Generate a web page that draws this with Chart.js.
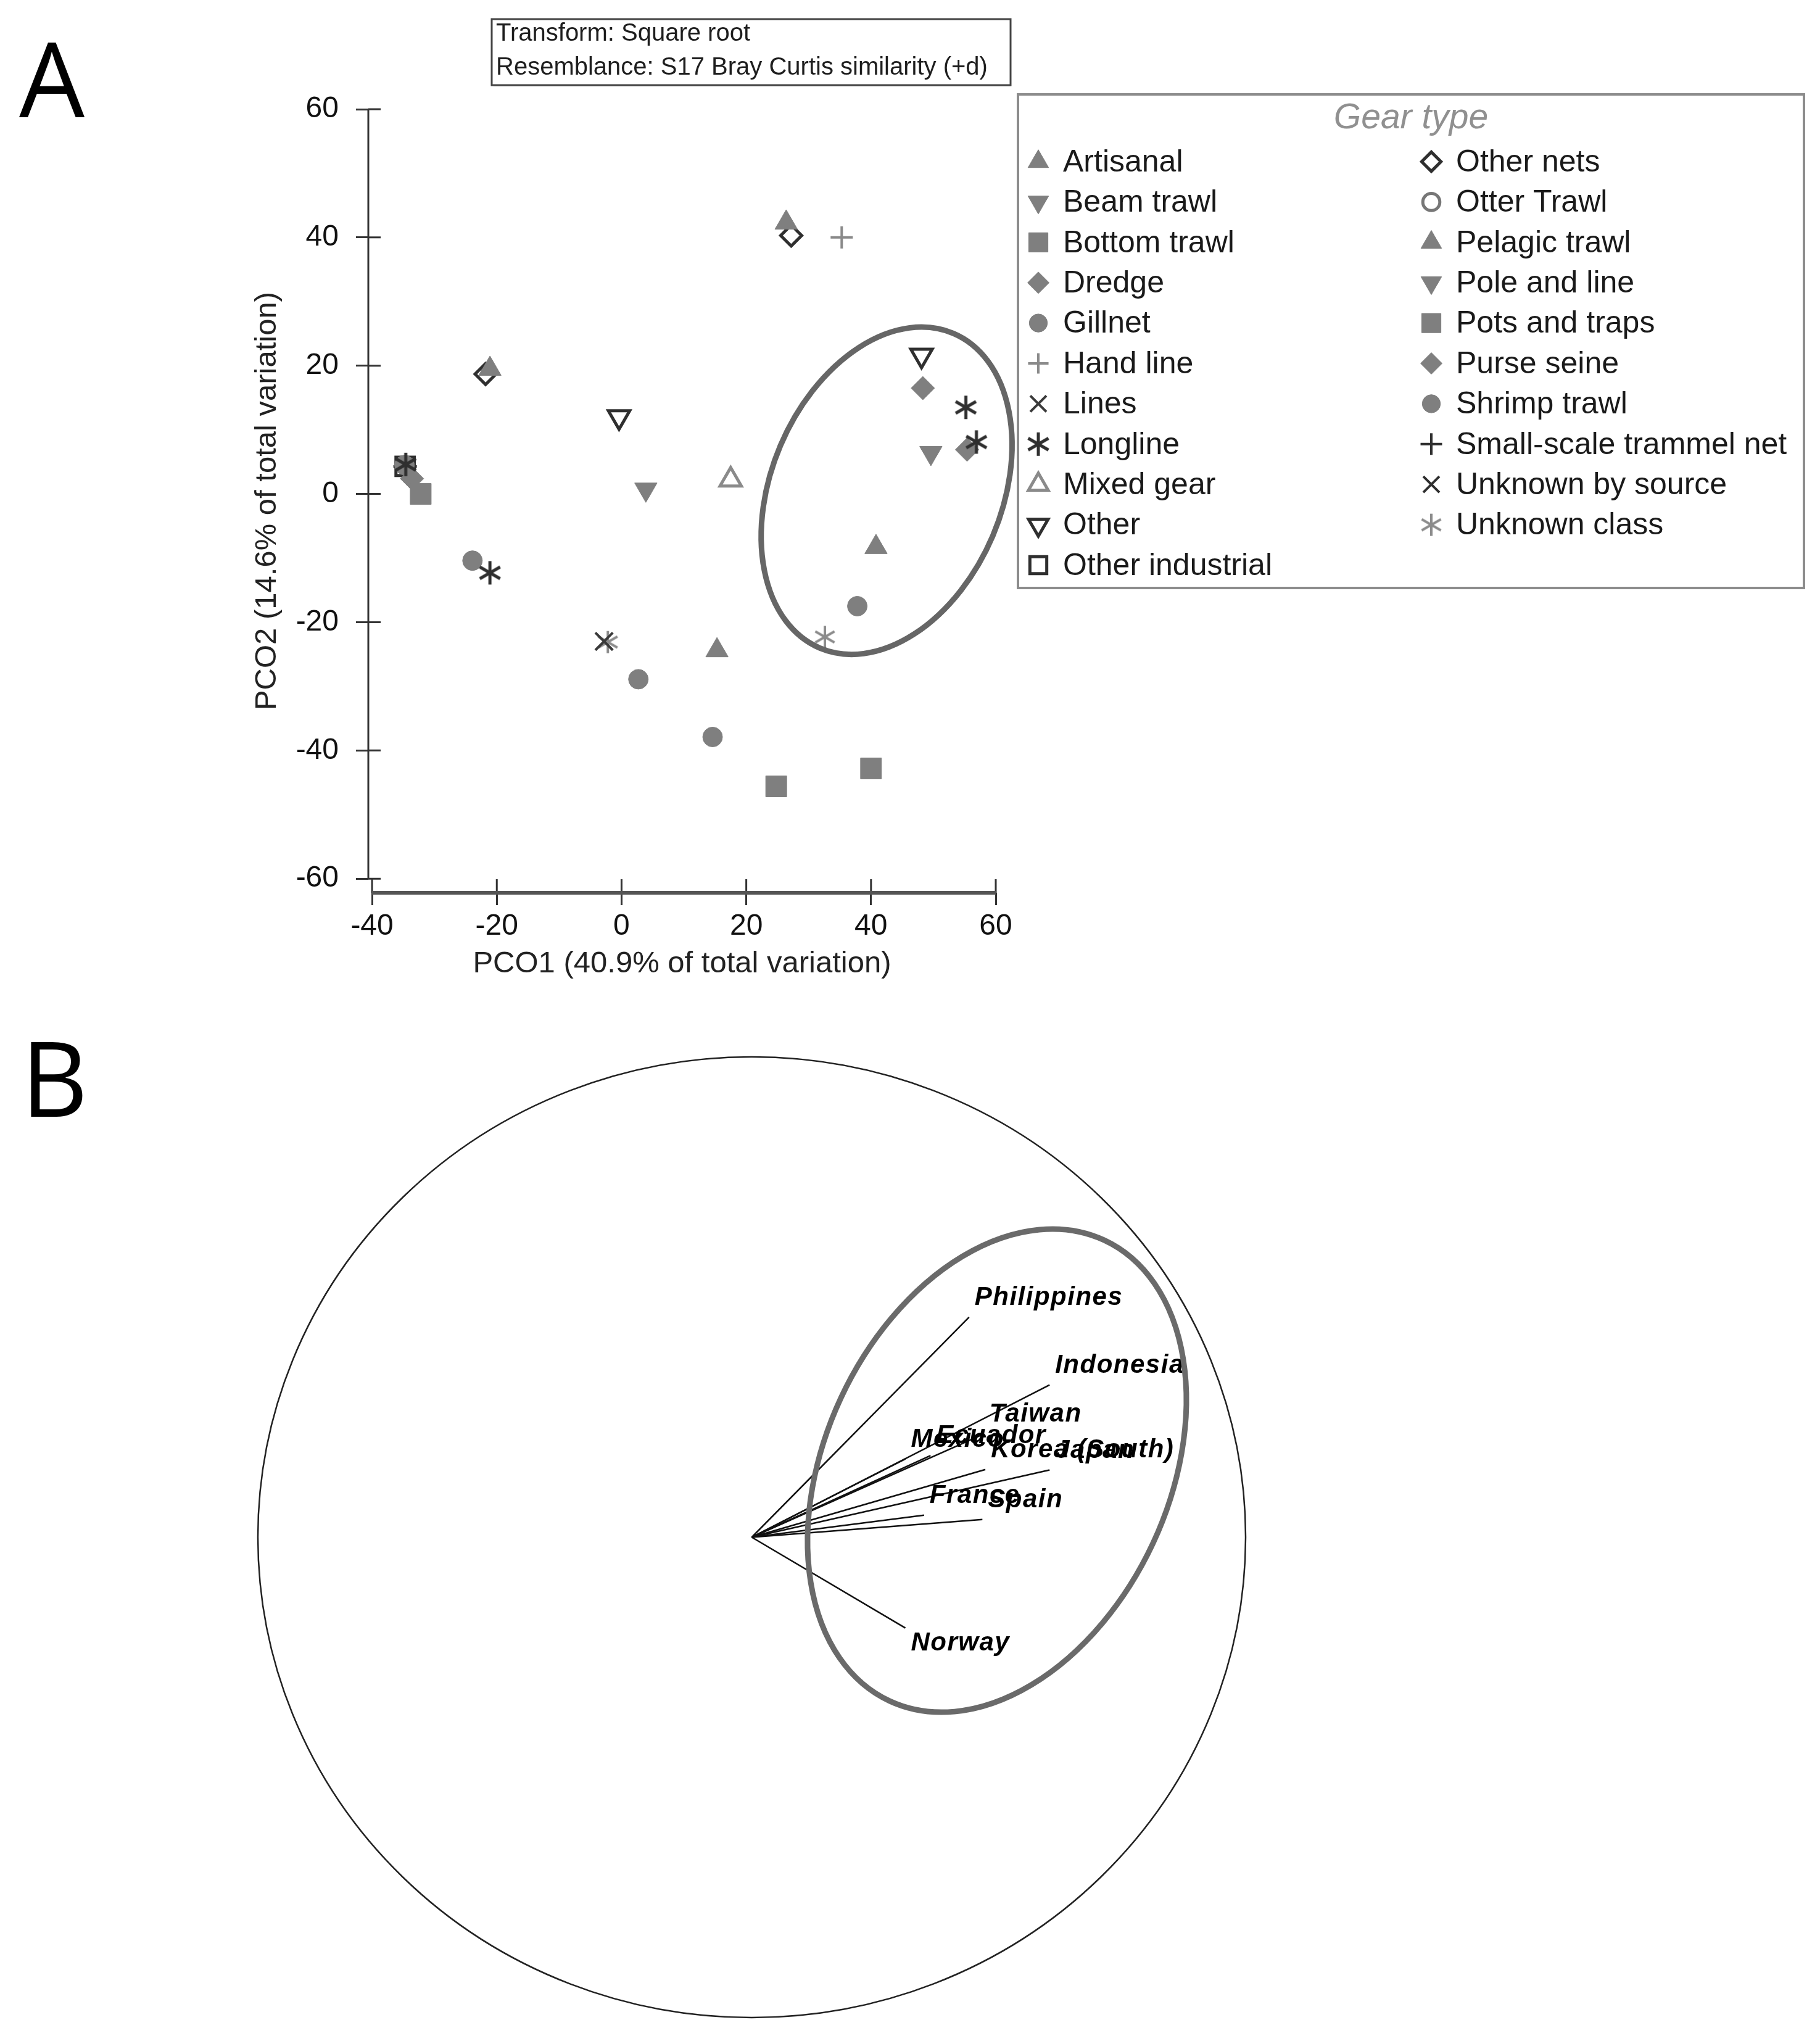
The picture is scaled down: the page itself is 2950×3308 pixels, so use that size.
<!DOCTYPE html>
<html>
<head>
<meta charset="utf-8">
<script src="https://cdn.jsdelivr.net/npm/chart.js@4.4.1/dist/chart.umd.min.js"></script>
<style>
  html, body { margin: 0; padding: 0; background: #fff; }
  body { width: 2950px; height: 3308px; position: relative; overflow: hidden; }
  canvas { position: absolute; left: 0; }
  #pcoA { top: 0; }
  #vecB { top: 1650px; }
</style>
</head>
<body>
<canvas id="pcoA" width="2950" height="1700"></canvas>
<canvas id="vecB" width="2950" height="1658"></canvas>
<script>
// Panel A - PCO scores by gear type
const gearTypes = [
  'Artisanal', 'Beam trawl', 'Bottom trawl', 'Dredge', 'Gillnet', 'Hand line',
  'Lines', 'Longline', 'Mixed gear', 'Other', 'Other industrial',
  'Other nets', 'Otter Trawl', 'Pelagic trawl', 'Pole and line', 'Pots and traps',
  'Purse seine', 'Shrimp trawl', 'Small-scale trammel net', 'Unknown by source', 'Unknown class'
]
const pco1 = [26.4, -21.1, 3.9, -32.2, 24.8, -33.6, -34.8, -23.9, 2.7, 35.3,
  -2.8, -34.6, -21.1, 55.2, 56.9, 17.5, -0.4, 48.1, -34.7, 27.2,
  -21.8, 40.8, 15.3, 49.6, 40.0, 48.3, 55.4, 14.6, 37.8, -34.7, -34.6, -2.2, 32.6]
const pco2 = [42.3, 19.5, 0.7, 0.0, -45.6, 2.4, 4.5, -10.4, -28.9, 40.0,
  -23.0, 4.6, -12.3, 13.5, 8.1, 2.2, 12.0, 21.6, 4.3, 40.3,
  18.7, -8.3, -24.4, 6.4, -42.8, 16.5, 6.9, -37.9, -17.5, 4.3, 4.4, -23.1, -22.3]
const pointGear = ['Artisanal', 'Artisanal', 'Beam trawl', 'Bottom trawl', 'Bottom trawl', 'Dredge',
  'Gillnet', 'Gillnet', 'Gillnet', 'Hand line',
  'Lines', 'Longline', 'Longline', 'Longline', 'Longline', 'Mixed gear', 'Other', 'Other',
  'Other industrial', 'Other nets', 'Other nets', 'Pelagic trawl', 'Pelagic trawl', 'Pole and line',
  'Pots and traps', 'Purse seine', 'Purse seine', 'Shrimp trawl', 'Shrimp trawl',
  'Small-scale trammel net', 'Unknown by source', 'Unknown class', 'Unknown class']
const xTicks = [-40, -20, 0, 20, 40, 60]
const yTicks = [-60, -40, -20, 0, 20, 40, 60]

// Panel B - country vectors
const countries = ['Philippines', 'Indonesia', 'Taiwan', 'Ecuador', 'Mexico',
  'Korea (South)', 'Japan', 'France', 'Spain', 'Norway']
const vecX = [0.440, 0.603, 0.470, 0.362, 0.311, 0.473, 0.603, 0.349, 0.467, 0.311]
const vecY = [0.458, 0.317, 0.215, 0.170, 0.163, 0.141, 0.140, 0.046, 0.037, -0.189]

const SANS = '"Liberation Sans", Arial, sans-serif'
Chart.defaults.font.family = SANS

// six-armed asterisk used for Longline / Unknown class
function asterisk(color, size, lw) {
  const c = document.createElement('canvas')
  c.width = c.height = size
  const g = c.getContext('2d')
  g.strokeStyle = color
  g.lineWidth = lw
  const r = size / 2 - 1
  for (const a of [90, 30, 150]) {
    const t = a * Math.PI / 180
    g.beginPath()
    g.moveTo(size / 2 - r * Math.cos(t), size / 2 - r * Math.sin(t))
    g.lineTo(size / 2 + r * Math.cos(t), size / 2 + r * Math.sin(t))
    g.stroke()
  }
  return c
}

const grey = '#7f7f7f', dark = '#2f2f2f', clear = 'rgba(0,0,0,0)'
const solid = (pointStyle, radius, rotation) => ({ pointStyle, radius, rotation: rotation || 0, fill: grey, stroke: grey, width: 1 })
const hollow = (pointStyle, radius, color, rotation) => ({ pointStyle, radius, rotation: rotation || 0, fill: '#fff', stroke: color, width: 5 })
const lined = (pointStyle, radius, color) => ({ pointStyle, radius, rotation: 0, fill: clear, stroke: color, width: 4 })

const gearStyle = {
  'Artisanal': solid('triangle', 21),
  'Beam trawl': solid('triangle', 21, 180),
  'Bottom trawl': solid('rect', 24),
  'Dredge': solid('rectRot', 19),
  'Gillnet': solid('circle', 16),
  'Hand line': lined('cross', 18, '#8a8a8a'),
  'Lines': lined('crossRot', 20, '#3a3a3a'),
  'Longline': { pointStyle: asterisk(dark, 40, 5), radius: 20, rotation: 0, fill: dark, stroke: dark, width: 0 },
  'Mixed gear': hollow('triangle', 20, '#8a8a8a'),
  'Other': hollow('triangle', 20, dark, 180),
  'Other industrial': hollow('rect', 21, dark),
  'Other nets': hollow('rectRot', 17, dark),
  'Otter Trawl': hollow('circle', 15, '#777'),
  'Pelagic trawl': solid('triangle', 21),
  'Pole and line': solid('triangle', 21, 180),
  'Pots and traps': solid('rect', 24),
  'Purse seine': solid('rectRot', 19),
  'Shrimp trawl': solid('circle', 16),
  'Small-scale trammel net': lined('cross', 19, dark),
  'Unknown by source': lined('crossRot', 20, dark),
  'Unknown class': { pointStyle: asterisk('#8c8c8c', 38, 4), radius: 19, rotation: 0, fill: grey, stroke: grey, width: 0 }
}

const datasetsA = gearTypes.map(name => {
  const s = gearStyle[name]
  const data = []
  pointGear.forEach((g, i) => { if (g === name) data.push({ x: pco1[i], y: pco2[i] }) })
  return {
    label: name,
    data,
    pointStyle: s.pointStyle,
    pointRadius: s.radius,
    rotation: s.rotation,
    backgroundColor: s.fill,
    borderColor: s.stroke,
    borderWidth: s.width,
    order: name === 'Longline' ? -1 : 0
  }
})

// axis lines (offset PRIMER style), inner tick halves, ellipse, legend, note box
const panelA = {
  id: 'panelA',
  afterDraw(chart) {
    const { ctx, chartArea } = chart
    const xs = chart.scales.x, ys = chart.scales.y
    const L = chartArea.left, B = chartArea.bottom
    ctx.save()
    ctx.strokeStyle = '#333'
    ctx.lineWidth = 3
    ctx.beginPath()
    ctx.moveTo(L, ys.getPixelForValue(60))
    ctx.lineTo(L, ys.getPixelForValue(-60))
    yTicks.forEach(v => { const p = ys.getPixelForValue(v); ctx.moveTo(L, p); ctx.lineTo(L + 20, p) })
    xTicks.forEach(v => { const p = xs.getPixelForValue(v); ctx.moveTo(p, B); ctx.lineTo(p, B - 22) })
    ctx.stroke()
    ctx.strokeStyle = '#555'
    ctx.lineWidth = 6
    ctx.beginPath()
    ctx.moveTo(xs.getPixelForValue(-40), B)
    ctx.lineTo(xs.getPixelForValue(60), B)
    ctx.stroke()

    // cluster ellipse
    ctx.strokeStyle = '#666'
    ctx.lineWidth = 9
    ctx.beginPath()
    ctx.ellipse(xs.getPixelForValue(42.5), ys.getPixelForValue(0.5), 187, 277, 23 * Math.PI / 180, 0, Math.PI * 2)
    ctx.stroke()

    // note box
    ctx.fillStyle = '#cfcfcf'
    ctx.fillRect(800, 135, 838, 5)
    ctx.fillStyle = '#fff'
    ctx.fillRect(797, 31, 841, 107)
    ctx.strokeStyle = '#444'
    ctx.lineWidth = 3
    ctx.strokeRect(797, 31, 841, 107)
    ctx.fillStyle = '#1e1e1e'
    ctx.font = '40px ' + SANS
    ctx.textAlign = 'left'
    ctx.textBaseline = 'alphabetic'
    ctx.fillText('Transform: Square root', 804, 66)
    ctx.fillText('Resemblance: S17 Bray Curtis similarity (+d)', 804, 121, 826)

    // legend
    ctx.strokeStyle = '#8c8c8c'
    ctx.lineWidth = 4
    ctx.strokeRect(1650, 153, 1274, 800)
    ctx.font = 'italic 57px ' + SANS
    ctx.fillStyle = '#909090'
    ctx.textAlign = 'center'
    ctx.fillText('Gear type', 2287, 208)
    ctx.font = '50px ' + SANS
    ctx.textAlign = 'left'
    ctx.textBaseline = 'middle'
    chart.data.datasets.forEach((ds, i) => {
      const right = i >= 11
      const row = right ? i - 11 : i
      const y = 262 + row * 65.4
      const mx = right ? 2320 : 1683
      ctx.fillStyle = ds.backgroundColor
      ctx.strokeStyle = ds.borderColor
      ctx.lineWidth = ds.borderWidth
      Chart.helpers.drawPoint(ctx, {
        pointStyle: ds.pointStyle, radius: ds.pointRadius * 0.92,
        rotation: ds.rotation, borderWidth: ds.borderWidth
      }, mx, y)
      ctx.fillStyle = '#1a1a1a'
      ctx.fillText(ds.label, right ? 2360 : 1723, y + 2)
    })

    ctx.fillStyle = '#000'
    ctx.textBaseline = 'alphabetic'
    ctx.font = '168px "Open Sans", ' + SANS
    ctx.fillText('A', 31, 190)
    ctx.restore()
  }
}

new Chart(document.getElementById('pcoA'), {
  type: 'scatter',
  data: { datasets: datasetsA },
  options: {
    responsive: false,
    animation: false,
    devicePixelRatio: 1,
    layout: { padding: { left: 380, top: 177, right: 1336, bottom: 0 } },
    plugins: { legend: { display: false }, tooltip: { enabled: false } },
    scales: {
      x: {
        type: 'linear', min: -40.6, max: 60,
        afterBuildTicks: s => { s.ticks = xTicks.map(v => ({ value: v })) },
        afterFit: s => { s.height = 253 },
        border: { display: false },
        grid: { drawOnChartArea: false, tickLength: 20, tickColor: '#333', tickWidth: 3 },
        ticks: { color: '#111', font: { size: 48 }, padding: 6, maxRotation: 0 },
        title: {
          display: true, text: 'PCO1 (40.9% of total variation)', color: '#222',
          font: { size: 49 }, padding: { top: 0, bottom: 108 }
        }
      },
      y: {
        type: 'linear', min: -62.2, max: 60,
        afterBuildTicks: s => { s.ticks = yTicks.map(v => ({ value: v })) },
        afterFit: s => { s.width = 217 },
        border: { display: false },
        grid: { drawOnChartArea: false, tickLength: 20, tickColor: '#333', tickWidth: 3 },
        ticks: { color: '#111', font: { size: 48 }, padding: 28 },
        title: {
          display: true, text: 'PCO2 (14.6% of total variation)', color: '#222',
          font: { size: 49 }, padding: { top: 24, bottom: 0 }
        }
      }
    }
  },
  plugins: [panelA]
})

// Panel B
const datasetsB = countries.map((name, i) => ({
  label: name,
  data: [{ x: 0, y: 0 }, { x: vecX[i], y: vecY[i] }],
  showLine: true,
  pointRadius: 0,
  borderColor: '#111',
  borderWidth: 2.5
}))

const panelB = {
  id: 'panelB',
  beforeDatasetsDraw(chart) {
    const { ctx } = chart
    const xs = chart.scales.x, ys = chart.scales.y
    const cx = xs.getPixelForValue(0), cy = ys.getPixelForValue(0)
    ctx.save()
    ctx.strokeStyle = '#222'
    ctx.lineWidth = 2.5
    ctx.beginPath()
    ctx.ellipse(cx, cy, xs.getPixelForValue(1) - cx, cy - ys.getPixelForValue(1), 0, 0, Math.PI * 2)
    ctx.stroke()
    ctx.restore()
  },
  afterDatasetsDraw(chart) {
    const { ctx } = chart
    const xs = chart.scales.x, ys = chart.scales.y
    ctx.save()
    ctx.fillStyle = '#000'
    ctx.font = 'italic bold 42px ' + SANS
    ctx.letterSpacing = '1.5px'
    ctx.textAlign = 'left'
    ctx.textBaseline = 'alphabetic'
    countries.forEach((name, i) => {
      const px = xs.getPixelForValue(vecX[i]), py = ys.getPixelForValue(vecY[i])
      ctx.fillText(name, px + 9, vecY[i] >= 0 ? py - 20 : py + 36)
    })
    ctx.letterSpacing = '0px'

    ctx.strokeStyle = '#6a6a6a'
    ctx.lineWidth = 9
    ctx.beginPath()
    ctx.ellipse(xs.getPixelForValue(0.4965), ys.getPixelForValue(0.1387), 279, 412, 25 * Math.PI / 180, 0, Math.PI * 2)
    ctx.stroke()

    ctx.font = '168px "Open Sans", ' + SANS
    ctx.fillText('B', 34, 160)
    ctx.restore()
  }
}

new Chart(document.getElementById('vecB'), {
  type: 'scatter',
  data: { datasets: datasetsB },
  options: {
    responsive: false,
    animation: false,
    devicePixelRatio: 1,
    layout: { padding: { left: 418, right: 931, top: 63, bottom: 38 } },
    plugins: { legend: { display: false }, tooltip: { enabled: false } },
    scales: {
      x: { type: 'linear', min: -1, max: 1, display: false },
      y: { type: 'linear', min: -1, max: 1, display: false }
    }
  },
  plugins: [panelB]
})
</script>
</body>
</html>
